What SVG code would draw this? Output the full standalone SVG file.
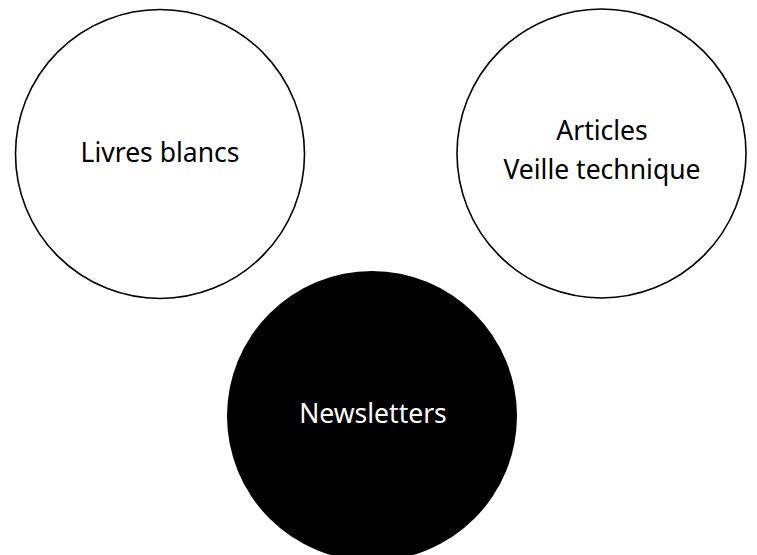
<svg xmlns="http://www.w3.org/2000/svg" width="757" height="555" viewBox="0 0 757 555">
<style>
.c{fill:#fff;stroke:#000;stroke-width:1.6}
.t{font-family:"Noto Sans","Liberation Sans",sans-serif;font-size:26.5px;text-anchor:middle;fill:#000}
</style>
<rect width="757" height="555" fill="#fff"/>
<g id="connectors"></g>
<g id="livres">
<circle class="c" cx="160" cy="154" r="144.5"/>
<text class="t" x="160" y="162">Livres blancs</text>
</g>
<g id="articles">
<circle class="c" cx="601.5" cy="153.5" r="144.5"/>
<text class="t" x="602" y="140">Articles</text>
<text class="t" x="602" y="179">Veille technique</text>
</g>
<g id="newsletters">
<circle cx="372" cy="416" r="145" fill="#000"/>
<text class="t" x="373" y="423" style="fill:#fff">Newsletters</text>
</g>
</svg>
